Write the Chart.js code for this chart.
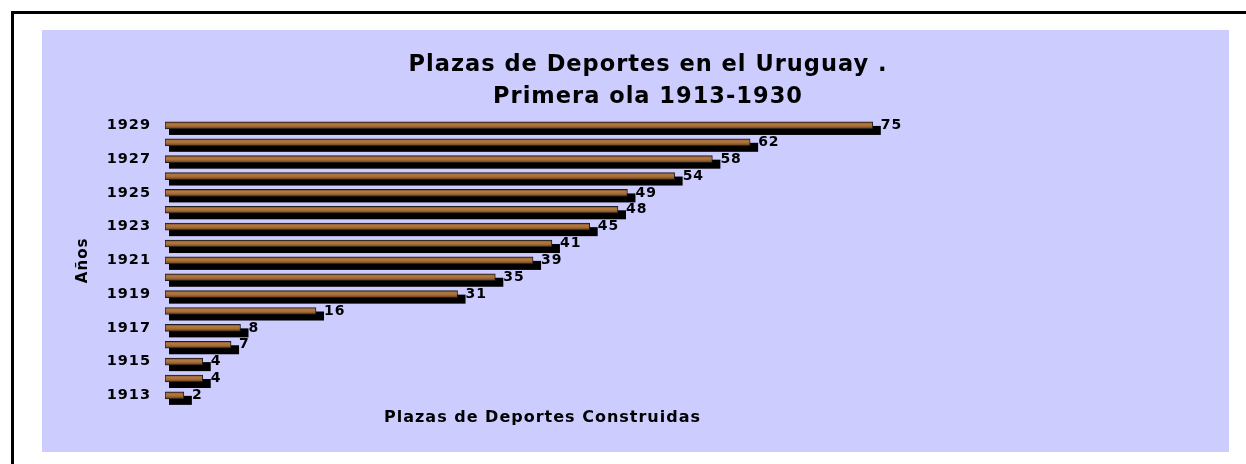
<!DOCTYPE html>
<html>
<head>
<meta charset="utf-8">
<script src="https://cdn.jsdelivr.net/npm/chart.js@4.4.1/dist/chart.umd.min.js"></script>
<style>
  html, body { margin: 0; padding: 0; background: #ffffff; }
  body { width: 1246px; height: 464px; overflow: hidden; position: relative; }
  #frame { position: absolute; left: 11px; top: 11px; width: 1250px; height: 470px;
           border-top: 3px solid #000; border-left: 3px solid #000; }
  #plot { position: absolute; left: 42px; top: 30px; width: 1187px; height: 422px; background: #ccccff; }
  canvas { display: block; }
</style>
</head>
<body>
<div id="frame"></div>
<div id="plot"><canvas id="c" width="1187" height="422"></canvas></div>
<script>
// ---- data ----
const years = ['1913','1914','1915','1916','1917','1918','1919','1920','1921',
               '1922','1923','1924','1925','1926','1927','1928','1929'];
const plazas = [2, 4, 4, 7, 8, 16, 31, 35, 39, 41, 45, 48, 49, 54, 58, 62, 75];
const shownYears = ['1913','1915','1917','1919','1921','1923','1925','1927','1929'];
const titleLines = ['Plazas de Deportes en el Uruguay .', 'Primera ola 1913-1930'];
const xTitle = 'Plazas de Deportes Construidas';
const yTitle = 'Años';

const FONT = "'DejaVu Sans', 'Liberation Sans', Arial, sans-serif";
const SPACING = '1px';

const spacingPlugin = {
  id: 'spacing',
  beforeLayout(chart) { chart.ctx.letterSpacing = SPACING; },
  beforeDraw(chart) { chart.ctx.letterSpacing = SPACING; }
};

const barDecor = {
  id: 'barDecor',
  beforeDatasetsDraw(chart) {
    const ctx = chart.ctx;
    const meta = chart.getDatasetMeta(0);
    ctx.save();
    ctx.fillStyle = '#000000';
    meta.data.forEach(bar => {
      const p = bar.getProps(['x', 'y', 'base', 'height'], true);
      const left = Math.min(p.base, p.x);
      ctx.fillRect(left + 4, p.y - p.height / 2 + 4, Math.abs(p.x - p.base) + 4, p.height + 2);
    });
    ctx.restore();
  },
  afterDatasetsDraw(chart) {
    const ctx = chart.ctx;
    const meta = chart.getDatasetMeta(0);
    const values = chart.data.datasets[0].data;
    ctx.save();
    ctx.fillStyle = '#000000';
    ctx.font = 'bold 14px ' + FONT;
    ctx.textAlign = 'left';
    ctx.textBaseline = 'middle';
    meta.data.forEach((bar, i) => {
      const p = bar.getProps(['x', 'y'], true);
      ctx.fillText(String(values[i]), p.x + 8, p.y);
    });
    ctx.restore();
  }
};

Chart.defaults.color = '#000000';
Chart.defaults.font.family = FONT;

new Chart(document.getElementById('c'), {
  type: 'bar',
  data: {
    labels: years,
    datasets: [{
      data: plazas,
      barThickness: 7,
      borderWidth: 1,
      borderColor: '#1e1e1e',
      borderSkipped: false,
      backgroundColor(c) {
        const chart = c.chart;
        const ys = chart.scales && chart.scales.y;
        if (c.type !== 'data' || !ys) return '#a06a35';
        const py = ys.getPixelForValue(c.dataIndex);
        if (!isFinite(py)) return '#a06a35';
        const g = chart.ctx.createLinearGradient(0, py - 3.5, 0, py + 3.5);
        g.addColorStop(0, '#6b4220');
        g.addColorStop(0.3, '#b47a42');
        g.addColorStop(0.6, '#a86c35');
        g.addColorStop(1, '#5e3a1c');
        return g;
      }
    }]
  },
  options: {
    indexAxis: 'y',
    responsive: false,
    animation: false,
    layout: { padding: { left: 25, right: 0, top: 0, bottom: 25 } },
    plugins: {
      legend: { display: false },
      tooltip: { enabled: false },
      title: {
        display: true,
        text: titleLines,
        color: '#000000',
        font: { size: 22.5, weight: 'bold', family: FONT, lineHeight: '32px' },
        padding: { top: 19, bottom: 4 }
      }
    },
    scales: {
      x: {
        type: 'linear',
        min: 0,
        max: 80,
        grid: { display: false, drawTicks: false },
        border: { display: false },
        ticks: { display: false },
        title: {
          display: true,
          text: xTitle,
          color: '#000000',
          font: { size: 16, weight: 'bold', family: FONT },
          padding: { top: 4, bottom: 0 }
        }
      },
      y: {
        type: 'category',
        reverse: true,
        grid: { display: false, drawTicks: false },
        border: { display: false },
        ticks: {
          autoSkip: false,
          padding: 14,
          color: '#000000',
          font: { size: 14.5, weight: 'bold', family: FONT },
          callback(value) {
            const lab = this.getLabelForValue(value);
            return shownYears.includes(lab) ? lab : '';
          }
        },
        title: {
          display: true,
          text: yTitle,
          color: '#000000',
          font: { size: 15, weight: 'bold', family: FONT },
          padding: { top: 7, bottom: 0 }
        },
        afterFit(s) { s.width = 98; }
      },
      yRight: {
        type: 'category',
        axis: 'y',
        position: 'right',
        display: true,
        grid: { display: false, drawTicks: false },
        border: { display: false },
        ticks: { display: false },
        afterFit(s) { s.width = 309; }
      }
    }
  },
  plugins: [spacingPlugin, barDecor]
});
</script>
</body>
</html>
